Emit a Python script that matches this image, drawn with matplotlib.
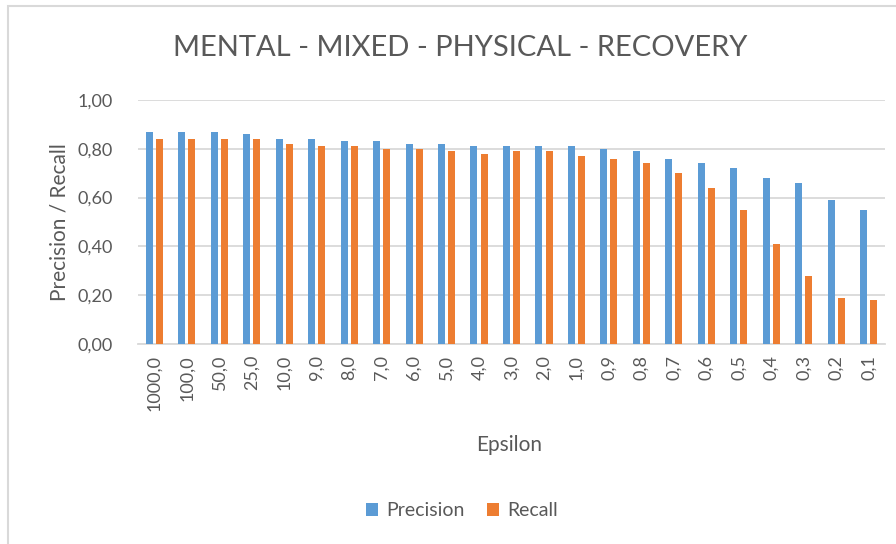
import numpy as np
import matplotlib
matplotlib.use("Agg")
import matplotlib.pyplot as plt
from matplotlib.patches import Rectangle

# epsilon values and scores per setting
epsilons = ["1000,0", "100,0", "50,0", "25,0", "10,0", "9,0", "8,0", "7,0", "6,0",
            "5,0", "4,0", "3,0", "2,0", "1,0", "0,9", "0,8", "0,7", "0,6", "0,5",
            "0,4", "0,3", "0,2", "0,1"]
precision = [0.87, 0.87, 0.87, 0.86, 0.84, 0.84, 0.83, 0.83, 0.82, 0.82, 0.81, 0.81,
             0.81, 0.81, 0.80, 0.79, 0.76, 0.74, 0.72, 0.68, 0.66, 0.59, 0.55]
recall = [0.84, 0.84, 0.84, 0.84, 0.82, 0.81, 0.81, 0.80, 0.80, 0.79, 0.78, 0.79,
          0.79, 0.77, 0.76, 0.74, 0.70, 0.64, 0.55, 0.41, 0.28, 0.19, 0.18]
y_ticks = [0.0, 0.2, 0.4, 0.6, 0.8, 1.0]

text_col = "#595959"
grid_col = "#D9D9D9"
blue = "#5B9BD5"
orange = "#ED7D31"

plt.rcParams['font.family'] = ['Lato', 'DejaVu Sans']

fig = plt.figure(figsize=(8.96, 5.44), dpi=100)
# chart frame, only its top and left edges fall inside the image
fig.patches.append(Rectangle((8 / 896, -0.1), 1.1, 1.1 - 6 / 544, transform=fig.transFigure,
                             fill=False, edgecolor=grid_col, linewidth=1.5))

ax = fig.add_axes([138 / 896, 200 / 544, 747 / 896, 244 / 544])
x = np.arange(len(epsilons))
w = 0.215
ax.bar(x - 0.155, precision, w, color=blue, label="Precision", zorder=3)
ax.bar(x + 0.155, recall, w, color=orange, label="Recall", zorder=3)

ax.set_xlim(-0.5, len(epsilons) - 0.5)
ax.set_ylim(0, 1.0)
ax.set_yticks(y_ticks)
ax.set_yticklabels([f"{v:.2f}".replace(".", ",") for v in y_ticks])
ax.set_xticks(x)
ax.set_xticklabels(epsilons, rotation=90)
ax.tick_params(axis="both", length=0, colors=text_col, labelsize=13)
ax.tick_params(axis="x", pad=8)
ax.tick_params(axis="y", pad=18)
ax.grid(axis="y", color=grid_col, linewidth=1.3, zorder=0)
for s in ["top", "right", "left"]:
    ax.spines[s].set_visible(False)
ax.spines["bottom"].set_color(grid_col)
ax.spines["bottom"].set_linewidth(1.3)

ax.set_ylabel("Precision / Recall", fontsize=15, color=text_col, labelpad=6)
fig.text(509 / 896, 1 - 445 / 544, "Epsilon", fontsize=15, color=text_col,
         ha="center", va="center")
fig.text(460 / 896, 1 - 48 / 544, "MENTAL - MIXED - PHYSICAL - RECOVERY", fontsize=21,
         color=text_col, ha="center", va="center")

fig.legend(loc="center", bbox_to_anchor=(462 / 896, 1 - 511 / 544), ncol=2, frameon=False,
           fontsize=14, labelcolor=text_col, handlelength=0.6, handleheight=0.6,
           handletextpad=0.4, columnspacing=1.2)

fig.savefig("out.png", dpi=100)
